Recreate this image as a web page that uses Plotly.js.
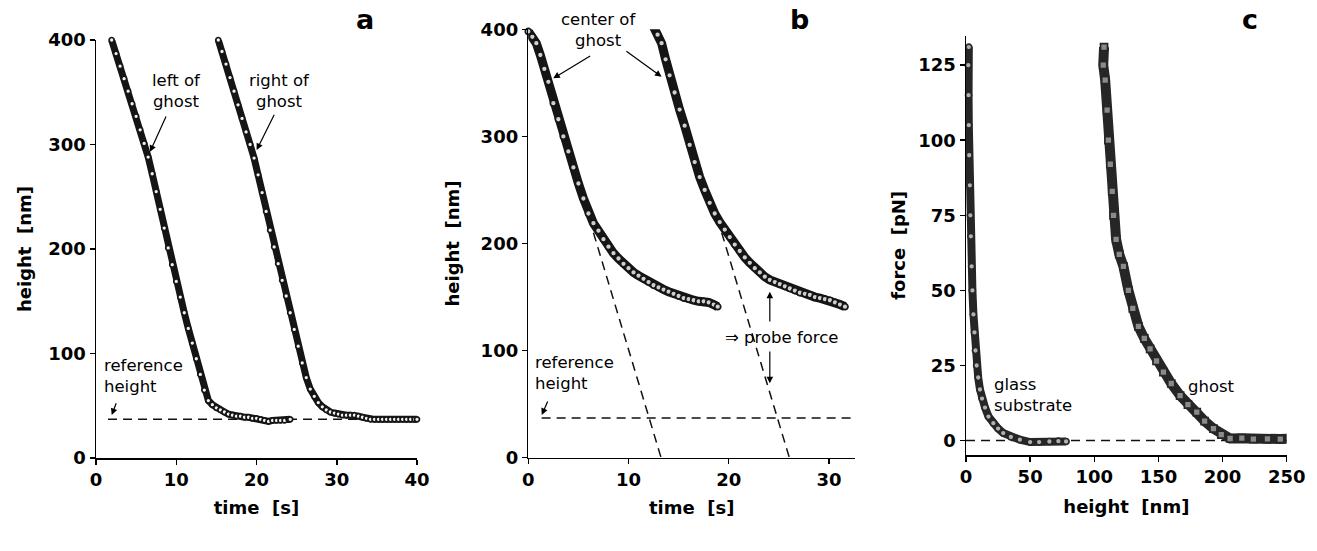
<!DOCTYPE html>
<html>
<head>
<meta charset="utf-8">
<script src="https://cdn.plot.ly/plotly-3.0.1.min.js"></script>
<style>
  html, body { margin: 0; padding: 0; background: #fff; }
  #chart { width: 1317px; height: 551px; }
</style>
</head>
<body>
<div id="chart"></div>
<script>
// ---------- Panel a: height vs time ----------
const aTimeLeft = [1.95,2.5,3,3.5,4,4.5,5,5.5,6,6.5,7,7.5,8,8.5,9,9.5,10,10.5,11,11.5,12,12.5,13,13.5,14,14.5,15,15.5,16,16.5,17,17.5,18,18.5,19,19.5,20,20.5,21,21.5,22,22.5,23,23.5,24,24.2];
const aHeightLeft = [400,387,375,363,351,339,327,314,301,288,272,255,238,220,201,185,169,154,139,124,110,95,80,65,55,51,48,46,44,42,41,40,40,39,39,38,38,37,36,35,36,36,36,36,37,37];
const aTimeRight = [15.24,15.7,16.2,16.7,17.2,17.7,18.2,18.7,19.2,19.7,20.2,20.7,21.2,21.7,22.2,22.7,23.2,23.7,24.2,24.7,25.2,25.7,26.2,26.7,27.2,27.7,28.2,28.7,29.2,29.7,30.2,30.7,31.2,31.7,32.2,32.7,33.2,33.7,34.2,34.7,35.2,35.7,36.2,36.7,37.2,37.7,38.2,38.7,39.2,39.7,40];
const aHeightRight = [400,389,377,364,351,338,325,312,300,287,271,254,236,218,202,186,170,155,139,123,107,91,77,66,59,53,49,46,44,43,42,41,41,41,41,40,39,38,37,37,37,37,37,37,37,37,37,37,37,37,37];
const aRefTime = [1.5, 40];
const refHeight = 37;

// ---------- Panel b: height vs time (center of ghost) ----------
const bTime1 = [0,0.4,0.8,1.2,1.6,2,2.5,3,3.5,4,4.5,5,5.5,6,6.5,7,7.5,8,8.5,9,9.5,10,10.5,11,11.5,12,12.5,13,13.5,14,14.5,15,15.5,16,16.5,17,17.5,18,18.5,18.9];
const bHeight1 = [398,393,387,376,363,351,331,316,300,286,271,256,242,228,219,212,204,197,191,186,181,177,173,170,167,164,161,159,157,155,153,151,149,148,147,146,146,145,143,141];
const bTime2 = [12.46,12.9,13.3,13.7,14.1,14.6,15.1,15.6,16.1,16.6,17.1,17.6,18.1,18.6,19.1,19.6,20.1,20.6,21.1,21.6,22.1,22.6,23.1,23.6,24.1,24.6,25.1,25.6,26.1,26.6,27.1,27.6,28.1,28.6,29.1,29.6,30.1,30.6,31.1,31.6];
const bHeight2 = [403,395,387,372,357,341,325,310,292,276,262,250,238,228,220,213,206,199,193,187,182,177,173,169,166,164,162,160,158,156,154,153,152,150,149,148,147,145,143,141];
const bTangent1Time = [6.5, 13.25];
const bTangent1Height = [210, 0];
const bTangent2Time = [19.3, 26.05];
const bTangent2Height = [210, 0];
const bRefTime = [1.33, 32.6];

// ---------- Panel c: force vs height ----------
const cGlassHeight = [2.2,1.8,2.0,2.2,2.5,3.0,3.4,3.8,4.4,5.0,5.8,6.6,7.4,8.3,9.5,10.9,12.5,14.8,17.5,21.3,25,29,35,42,50,57,65,72,78];
const cGlassForce = [131,125,115,105,95,85,75,68,58,50,42,36,30,25,21,17,14,11,8,5.8,4,2.5,1.2,0.3,-0.5,-0.5,-0.3,-0.2,-0.3];
const cGhostHeight = [107.6,107,108.5,110,111,112.5,114,115,117,119.5,122.7,126.6,130,134.4,139,143.5,148.5,153.9,160,166.9,173,179.9,186,192.9,199,205.9,215,224,235,245,252.6];
const cGhostForce = [131,125,120,110,100,92,83,75,67,62,58,50,44,38,34,30.5,26.5,22.8,19,15,12,9.5,6.5,4,2,0.7,0.8,0.5,0.6,0.5,0.7];
const cZeroHeight = [0, 250];
const zeroForce = 0;

// ---------- Tick labels ----------
const aXTicks = [0,10,20,30,40];
const abYTicks = [0,100,200,300,400];
const bXTicks = [0,10,20,30];
const cXTicks = [0,50,100,150,200,250];
const cYTicks = [0,25,50,75,100,125];

const W = 1317, H = 551;
const px = v => v / W;
const py = v => 1 - v / H;

const band = (x, y, xa, ya, width, col, symbol, msize, fill) => ({
  x: x, y: y, xaxis: xa, yaxis: ya, type: 'scatter', mode: 'lines+markers',
  cliponaxis: false, showlegend: false, hoverinfo: 'skip',
  line: { color: col, width: width, shape: 'linear' },
  marker: { symbol: symbol, size: msize, color: fill, line: { color: col, width: 1.7 } }
});
const dashed = (x, y, xa, ya) => ({
  x: x, y: y, xaxis: xa, yaxis: ya, type: 'scatter', mode: 'lines',
  cliponaxis: false, showlegend: false, hoverinfo: 'skip',
  line: { color: '#111', width: 1.5, dash: '9px,6px' }
});

const traces = [
  dashed(aRefTime, [refHeight, refHeight], 'x', 'y'),
  band(aTimeLeft, aHeightLeft, 'x', 'y', 7, '#151515', 'circle', 5, '#f2f2f2'),
  band(aTimeRight, aHeightRight, 'x', 'y', 7, '#151515', 'circle', 5, '#f2f2f2'),
  dashed(bRefTime, [refHeight, refHeight], 'x2', 'y2'),
  dashed(bTangent1Time, bTangent1Height, 'x2', 'y2'),
  dashed(bTangent2Time, bTangent2Height, 'x2', 'y2'),
  band(bTime1, bHeight1, 'x2', 'y2', 9, '#151515', 'circle', 6, '#cfcfcf'),
  band(bTime2, bHeight2, 'x2', 'y2', 9, '#151515', 'circle', 6, '#cfcfcf'),
  dashed(cZeroHeight, [zeroForce, zeroForce], 'x3', 'y3'),
  band(cGlassHeight, cGlassForce, 'x3', 'y3', 8, '#262626', 'circle', 6, '#b0b0b0'),
  band(cGhostHeight, cGhostForce, 'x3', 'y3', 10, '#262626', 'square', 7, '#8a8a8a')
];

const tickFont = { family: 'DejaVu Sans', size: 18, weight: 'bold', color: '#000' };
const titleFont = { family: 'DejaVu Sans', size: 18, weight: 'bold', color: '#000' };
const axBase = {
  showline: true, linecolor: '#000', linewidth: 1.5,
  ticks: 'outside', ticklen: 5, tickwidth: 1.5, tickcolor: '#000',
  showgrid: false, zeroline: false, tickfont: tickFont, fixedrange: true
};

const annFont = { family: 'DejaVu Sans', size: 16.5, color: '#000' };
const arrow = (xref, yref, x, y, ax, ay) => ({
  xref: xref, yref: yref, x: x, y: y, ax: ax, ay: ay, text: '',
  showarrow: true, arrowhead: 2, arrowsize: 1.1, arrowwidth: 1.2, arrowcolor: '#000'
});
const label = (xref, yref, x, y, text, xanchor) => ({
  xref: xref, yref: yref, x: x, y: y, text: text, showarrow: false,
  xanchor: xanchor || 'center', yanchor: 'middle', align: xanchor === 'left' ? 'left' : 'center',
  font: annFont
});
const panelLetter = (xp, yp, t) => ({
  xref: 'paper', yref: 'paper', x: px(xp), y: py(yp), text: t, showarrow: false,
  xanchor: 'center', yanchor: 'middle', font: { family: 'DejaVu Sans', size: 27, weight: 'bold', color: '#000' }
});

const layout = {
  width: W, height: H,
  margin: { l: 0, r: 0, t: 0, b: 0 },
  paper_bgcolor: '#fff', plot_bgcolor: 'rgba(0,0,0,0)',
  showlegend: false,
  xaxis: Object.assign({}, axBase, {
    domain: [px(96), px(417)], range: [0, 40], tickvals: aXTicks, anchor: 'y',
    title: { text: 'time\u00a0\u00a0[s]', font: titleFont, standoff: 12 }
  }),
  yaxis: Object.assign({}, axBase, {
    domain: [py(458), py(40)], range: [0, 400], tickvals: abYTicks, anchor: 'x',
    title: { text: 'height\u00a0\u00a0[nm]', font: titleFont, standoff: 12 }
  }),
  xaxis2: Object.assign({}, axBase, {
    domain: [px(528.3), px(855)], range: [0, 32.6], tickvals: bXTicks, anchor: 'y2',
    title: { text: 'time\u00a0\u00a0[s]', font: titleFont, standoff: 12 }
  }),
  yaxis2: Object.assign({}, axBase, {
    domain: [py(457.7), py(29.3)], range: [0, 400], tickvals: abYTicks, anchor: 'x2',
    title: { text: 'height\u00a0\u00a0[nm]', font: titleFont, standoff: 16 }
  }),
  xaxis3: Object.assign({}, axBase, {
    domain: [px(966), px(1286.7)], range: [0, 250], tickvals: cXTicks, anchor: 'y3',
    title: { text: 'height\u00a0\u00a0[nm]', font: titleFont, standoff: 14 }
  }),
  yaxis3: Object.assign({}, axBase, {
    domain: [py(455), py(35.7)], range: [-4.8, 134.8], tickvals: cYTicks, anchor: 'x3',
    title: { text: 'force\u00a0\u00a0[pN]', font: titleFont, standoff: 8 }
  }),
  annotations: [
    panelLetter(365, 20, 'a'),
    panelLetter(799, 20, 'b'),
    panelLetter(1250, 20, 'c'),
    // panel a
    label('x', 'y', 10.06, 351, 'left of<br>ghost'),
    arrow('x', 'y', 6.73, 293, 16.7, -36.7),
    label('x', 'y', 22.9, 351, 'right of<br>ghost'),
    arrow('x', 'y', 20.02, 294.7, 18.3, -36.7),
    label('x', 'y', 0.71, 78, 'reference<br>height', 'left'),
    arrow('x', 'y', 1.96, 41.1, 5, -13.3),
    // panel b
    label('x2', 'y2', 6.98, 399, 'center of<br>ghost'),
    arrow('x2', 'y2', 2.49, 354.2, 38.4, -23.3),
    arrow('x2', 'y2', 13.3, 355.7, -36.7, -26.7),
    label('x2', 'y2', 25.26, 112.4, '\u21d2 probe force'),
    arrow('x2', 'y2', 24.1, 155, 0, 31.3),
    arrow('x2', 'y2', 24.1, 69.5, 0, -33.3),
    label('x2', 'y2', 0.5, 78.8, 'reference<br>height', 'left'),
    arrow('x2', 'y2', 1.34, 39.9, 6.6, -15),
    // panel c
    label('x3', 'y3', 20, 15.1, 'glass<br>substrate', 'left'),
    label('x3', 'y3', 171.6, 18, 'ghost', 'left')
  ]
};

Plotly.newPlot('chart', traces, layout, { displayModeBar: false, staticPlot: true });
</script>
</body>
</html>
